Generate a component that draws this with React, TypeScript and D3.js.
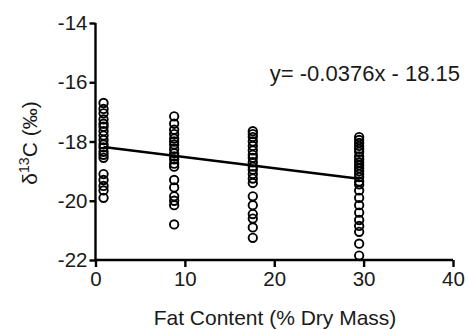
import React, { useEffect, useRef } from 'react';
import * as d3 from 'd3';

// fat content (% dry mass) of each group
const fatLevels = [0.9, 8.8, 17.6, 29.5];

// δ13C values per group
const group1 = [-16.7, -16.9, -17.05, -17.25, -17.4, -17.5, -17.65, -17.8, -17.95, -18.1, -18.2, -18.35, -18.45, -18.55, -19.1, -19.3, -19.5, -19.65, -19.9];
const group2 = [-17.15, -17.4, -17.6, -17.75, -17.9, -18.0, -18.1, -18.25, -18.4, -18.5, -18.6, -18.75, -18.85, -19.3, -19.55, -19.85, -20.0, -20.15, -20.8];
const group3 = [-17.65, -17.75, -17.85, -18.0, -18.15, -18.3, -18.45, -18.55, -18.7, -18.85, -18.95, -19.1, -19.25, -19.4, -19.85, -20.15, -20.45, -20.6, -20.9, -21.25];
const group4 = [-17.85, -17.95, -18.05, -18.15, -18.25, -18.35, -18.5, -18.6, -18.7, -18.8, -18.9, -19.0, -19.1, -19.2, -19.35, -19.45, -19.65, -19.9, -20.15, -20.4, -20.65, -20.85, -21.05, -21.45, -21.85];

const xTicks = [0, 10, 20, 30, 40];
const yTicks = [-22, -20, -18, -16, -14];

// fitted line y = slope * x + intercept
const slope = -0.0376;
const intercept = -18.15;

const App = () => {
  const svgRef = useRef<SVGSVGElement>(null);

  useEffect(() => {
    const svg = d3.select(svgRef.current);
    svg.selectAll('*').remove();

    const x = d3.scaleLinear().domain([0, 40]).range([95.5, 453]);
    const y = d3.scaleLinear().domain([-22, -14]).range([260, 23]);

    const points = [group1, group2, group3, group4].flatMap((g, i) =>
      g.map(v => ({ fat: fatLevels[i], d13c: v }))
    );

    const font = 'Liberation Sans, Arial, sans-serif';
    const ink = '#1a1a1a';

    // points
    svg.append('g')
      .selectAll('circle')
      .data(points)
      .join('circle')
      .attr('cx', d => x(d.fat))
      .attr('cy', d => y(d.d13c))
      .attr('r', 4.2)
      .attr('fill', 'none')
      .attr('stroke', '#000')
      .attr('stroke-width', 1.9);

    // regression line
    const xr = d3.extent(fatLevels) as [number, number];
    const line = d3.line<number>()
      .x(d => x(d))
      .y(d => y(slope * d + intercept));
    svg.append('path')
      .attr('d', line(xr))
      .attr('fill', 'none')
      .attr('stroke', '#000')
      .attr('stroke-width', 2.4);

    // axes
    const xAxis = svg.append('g')
      .attr('transform', `translate(0, ${y(-22)})`)
      .call(d3.axisBottom(x).tickValues(xTicks).tickSize(7).tickPadding(4).tickFormat(d3.format('d')));
    const yAxis = svg.append('g')
      .attr('transform', `translate(${x(0)}, 0)`)
      .call(d3.axisLeft(y).tickValues(yTicks).tickSize(6).tickPadding(2).tickFormat(d => String(d)));

    [xAxis, yAxis].forEach(a => {
      a.select('.domain').attr('stroke', '#000').attr('stroke-width', 2.4);
      a.selectAll('.tick line').attr('stroke', '#000').attr('stroke-width', 2.4);
      a.selectAll('.tick text')
        .attr('fill', ink)
        .attr('font-family', font)
        .attr('font-size', 20.5);
    });
    // plain hyphen as in the original
    yAxis.selectAll('.tick text').text((d: any) => `-${Math.abs(d)}`);
    // straight axis lines without outer tick caps
    xAxis.select('.domain').attr('d', `M${x(0) - 1},0H${x(40)}`);
    yAxis.select('.domain').attr('d', `M0,${y(-22)}V${y(-14)}`);

    // axis titles
    svg.append('text')
      .attr('x', 275)
      .attr('y', 325)
      .attr('text-anchor', 'middle')
      .attr('font-family', font)
      .attr('font-size', 21)
      .attr('fill', ink)
      .text('Fat Content (% Dry Mass)');

    const yt = svg.append('text')
      .attr('transform', 'translate(37, 143) rotate(-90)')
      .attr('text-anchor', 'middle')
      .attr('font-family', font)
      .attr('font-size', 21)
      .attr('fill', ink);
    yt.append('tspan').text('δ');
    yt.append('tspan').attr('dy', -8).attr('font-size', 14).text('13');
    yt.append('tspan').attr('dy', 8).text('C (‰)');

    // equation
    svg.append('text')
      .attr('x', 460)
      .attr('y', 81)
      .attr('text-anchor', 'end')
      .attr('font-family', font)
      .attr('font-size', 22)
      .attr('fill', ink)
      .text('y= -0.0376x - 18.15');
  }, []);

  return (
    <svg
      ref={svgRef}
      width="468"
      height="330"
      style={{ position: 'absolute', left: 0, top: 0, background: '#fff' }}
    />
  );
};

export default App;
